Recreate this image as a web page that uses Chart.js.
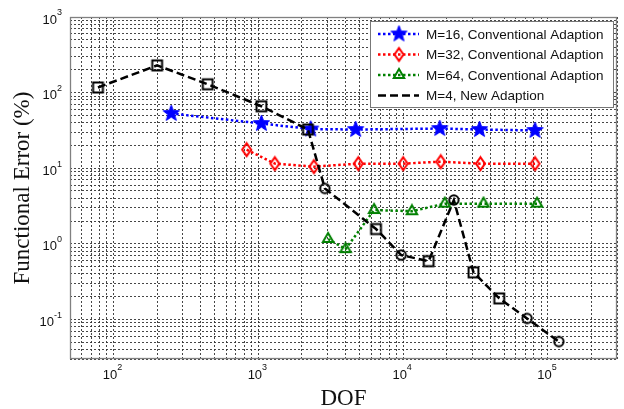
<!DOCTYPE html>
<html>
<head>
<meta charset="utf-8">
<script src="https://cdn.jsdelivr.net/npm/chart.js@4.4.1/dist/chart.umd.min.js"></script>
<style>
  html, body { margin: 0; padding: 0; background: #fff; }
</style>
</head>
<body>
<canvas id="chartDof" width="624" height="409"></canvas>
<script>
// data
const dofM16 = [250, 1050, 2300, 4700, 17900, 33700, 81500];
const errM16 = [53, 39, 33, 32.5, 33.5, 32.5, 31.6];
const dofM32 = [830, 1300, 2420, 4900, 10000, 18200, 34200, 81500];
const errM32 = [17.6, 11.5, 10.5, 11.5, 11.5, 12.2, 11.5, 11.5];
const dofM64 = [3030, 4000, 6300, 11500, 19400, 35900, 84100];
const errM64 = [1.16, 0.85, 2.8, 2.7, 3.4, 3.4, 3.4];
const dofM4 = [78, 200, 447, 1050, 2200, 2880, 6500, 9700, 15000, 22400, 30600, 46100, 71800, 119000];
const errM4 = [117, 229, 129, 66, 32.5, 5.4, 1.57, 0.71, 0.59, 3.8, 0.42, 0.19, 0.103, 0.051];
const seriesLabels = [
    "M=16, Conventional Adaption",
    "M=32, Conventional Adaption",
    "M=64, Conventional Adaption",
    "M=4, New Adaption",
];
const xTickExps = [2, 3, 4, 5];
const yTickExps = [-1, 0, 1, 2, 3];
const xRange = [50, 3e5];
const yRange = [0.03, 1000];

const toPoints = (xs, ys) => xs.map((x, i) => ({ x: x, y: ys[i] }));

// marker images (matlab style hollow markers, filled star)
function makeMarker(shape, color, r) {
    const c = document.createElement("canvas");
    const s = Math.ceil(r * 2 + 4);
    c.width = s;
    c.height = s;
    const g = c.getContext("2d");
    const m = s / 2;
    g.strokeStyle = color;
    g.fillStyle = color;
    g.lineWidth = 2;
    g.beginPath();
    if (shape === "star") {
        for (let i = 0; i < 10; i++) {
            const rad = i % 2 ? r * 0.42 : r;
            const ang = -Math.PI / 2 + (i * Math.PI) / 5;
            g.lineTo(m + rad * Math.cos(ang), m + rad * Math.sin(ang));
        }
        g.closePath();
        g.fill();
        g.lineWidth = 1;
        g.stroke();
    } else if (shape === "diamond") {
        g.moveTo(m, m - r);
        g.lineTo(m + r * 0.7, m);
        g.lineTo(m, m + r);
        g.lineTo(m - r * 0.7, m);
        g.closePath();
        g.stroke();
    } else if (shape === "triangle") {
        g.moveTo(m, m - r);
        g.lineTo(m + r * 0.87, m + r * 0.5);
        g.lineTo(m - r * 0.87, m + r * 0.5);
        g.closePath();
        g.stroke();
    } else if (shape === "square") {
        g.rect(m - r * 0.78, m - r * 0.78, r * 1.56, r * 1.56);
        g.stroke();
    } else {
        g.arc(m, m, r * 0.78, 0, Math.PI * 2);
        g.stroke();
    }
    return c;
}

const BLUE = "#0000ff";
const RED = "#ff0000";
const GREEN = "#008000";
const BLACK = "#000000";

const starMk = makeMarker("star", BLUE, 8.5);
const diamondMk = makeMarker("diamond", RED, 6.4);
const triangleMk = makeMarker("triangle", GREEN, 6);
const squareMk = makeMarker("square", BLACK, 6.3);
const circleMk = makeMarker("circle", BLACK, 6);
// the black curve mixes squares and circles in the original
const m4Shapes = "sssssosososso".split("").concat(["o"]).map((k) => (k === "s" ? squareMk : circleMk));

const dotted = [2.5, 2.5];
const dashed = [8, 4];

function decadeTicks(min, max) {
    const out = [];
    for (let e = Math.floor(Math.log10(min)); e <= Math.ceil(Math.log10(max)); e++) {
        for (let k = 1; k <= 9; k++) {
            const v = Number((k * Math.pow(10, e)).toPrecision(6));
            if (v >= min * 0.999 && v <= max * 1.001) out.push({ value: v });
        }
    }
    return out;
}

function drawPow(ctx, exp, x, y, align) {
    const baseFont = '13px "Liberation Sans", Arial, sans-serif';
    const expFont = '9px "Liberation Sans", Arial, sans-serif';
    ctx.font = baseFont;
    const wb = ctx.measureText("10").width;
    ctx.font = expFont;
    const e = String(exp);
    const we = ctx.measureText(e).width;
    const left = align === "right" ? x - wb - we : x - (wb + we) / 2;
    ctx.textAlign = "left";
    ctx.textBaseline = "middle";
    ctx.fillStyle = "#111";
    ctx.font = baseFont;
    ctx.fillText("10", left, y);
    ctx.font = expFont;
    ctx.fillText(e, left + wb, y - 7);
}

const legendItems = [
    { color: BLUE, dash: dotted, marker: starMk },
    { color: RED, dash: dotted, marker: diamondMk },
    { color: GREEN, dash: dotted, marker: triangleMk },
    { color: BLACK, dash: dashed, marker: null },
];

const decorPlugin = {
    id: "decor",
    beforeDatasetsDraw(chart) {
        const { ctx, chartArea: a } = chart;
        ctx.save();
        ctx.strokeStyle = "#808080";
        ctx.lineWidth = 1.3;
        ctx.strokeRect(
            Math.round(a.left) + 0.5,
            Math.round(a.top) + 0.5,
            Math.round(a.right - a.left) - 1,
            Math.round(a.bottom - a.top) - 1
        );
        ctx.restore();
    },
    afterDatasetsDraw(chart) {
        const ctx = chart.ctx;
        ctx.save();
        // legend box
        ctx.fillStyle = "#fff";
        ctx.fillRect(370, 21, 243, 86);
        ctx.strokeStyle = "#777";
        ctx.lineWidth = 1;
        ctx.strokeRect(370.5, 21.5, 243, 86);
        legendItems.forEach((it, i) => {
            const y = 34 + i * 20.5;
            ctx.strokeStyle = it.color;
            ctx.lineWidth = 2.5;
            ctx.setLineDash(it.dash);
            ctx.beginPath();
            ctx.moveTo(378, y);
            ctx.lineTo(419, y);
            ctx.stroke();
            ctx.setLineDash([]);
            if (it.marker) {
                ctx.drawImage(it.marker, 399 - it.marker.width / 2, y - it.marker.height / 2);
            }
            ctx.fillStyle = "#111";
            ctx.font = '13.5px "Liberation Sans", Arial, sans-serif';
            ctx.textAlign = "left";
            ctx.textBaseline = "middle";
            ctx.fillText(seriesLabels[i], 426, y + 1);
        });
        ctx.restore();
    },
    afterDraw(chart) {
        const ctx = chart.ctx;
        const xs = chart.scales.x;
        const ys = chart.scales.y;
        ctx.save();
        xTickExps.forEach((e) => {
            drawPow(ctx, e, xs.getPixelForValue(Math.pow(10, e)) - 1, 375, "center");
        });
        yTickExps.forEach((e) => {
            drawPow(ctx, e, 62, ys.getPixelForValue(Math.pow(10, e)) + 3, "right");
        });
        ctx.fillStyle = "#111";
        ctx.font = '23px "Liberation Serif", "Times New Roman", serif';
        ctx.textAlign = "center";
        ctx.textBaseline = "alphabetic";
        ctx.fillText("DOF", (chart.chartArea.left + chart.chartArea.right) / 2, 405);
        ctx.translate(29, (chart.chartArea.top + chart.chartArea.bottom) / 2);
        ctx.rotate(-Math.PI / 2);
        ctx.fillText("Functional Error (%)", 0, 0);
        ctx.restore();
    },
};

const gridOpts = { color: "rgba(50,50,50,0.9)", lineWidth: 1, drawTicks: false };

document.addEventListener("DOMContentLoaded", function () {
    const ctx = document.getElementById("chartDof");
    new Chart(ctx, {
        type: "line",
        data: {
            datasets: [
                {
                    label: seriesLabels[0],
                    data: toPoints(dofM16, errM16),
                    borderColor: BLUE,
                    borderWidth: 2.5,
                    borderDash: dotted,
                    pointStyle: starMk,
                    order: 3,
                },
                {
                    label: seriesLabels[1],
                    data: toPoints(dofM32, errM32),
                    borderColor: RED,
                    borderWidth: 2.5,
                    borderDash: dotted,
                    pointStyle: diamondMk,
                    order: 2,
                },
                {
                    label: seriesLabels[2],
                    data: toPoints(dofM64, errM64),
                    borderColor: GREEN,
                    borderWidth: 2.5,
                    borderDash: dotted,
                    pointStyle: triangleMk,
                    order: 1,
                },
                {
                    label: seriesLabels[3],
                    data: toPoints(dofM4, errM4),
                    borderColor: BLACK,
                    borderWidth: 2.5,
                    borderDash: dashed,
                    pointStyle: m4Shapes,
                    order: 0,
                },
            ],
        },
        options: {
            responsive: false,
            animation: false,
            events: [],
            layout: { padding: { left: 70, top: 17, right: 7, bottom: 50 } },
            elements: { line: { tension: 0, fill: false } },
            plugins: { legend: { display: false }, tooltip: { enabled: false } },
            scales: {
                x: {
                    type: "logarithmic",
                    min: xRange[0],
                    max: xRange[1],
                    ticks: { display: false },
                    grid: gridOpts,
                    border: { display: false, dash: [2, 2] },
                    afterBuildTicks: (s) => {
                        s.ticks = decadeTicks(xRange[0], xRange[1]);
                    },
                },
                y: {
                    type: "logarithmic",
                    min: yRange[0],
                    max: yRange[1],
                    ticks: { display: false },
                    grid: gridOpts,
                    border: { display: false, dash: [2, 2] },
                    afterBuildTicks: (s) => {
                        s.ticks = decadeTicks(yRange[0], yRange[1]);
                    },
                },
            },
        },
        plugins: [decorPlugin],
    });
});
</script>
</body>
</html>
